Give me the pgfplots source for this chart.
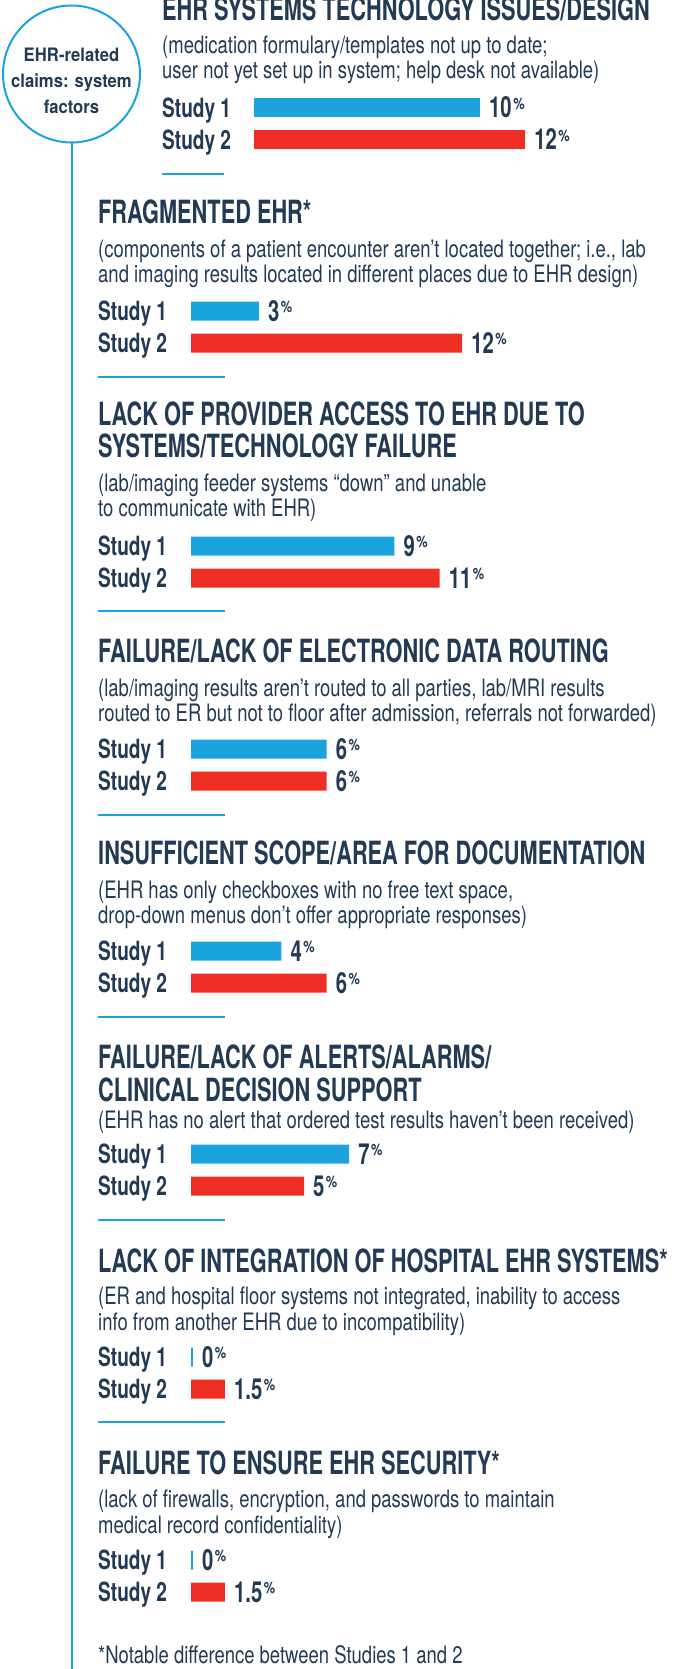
\documentclass[border=0pt]{standalone}
\usepackage{pgfplots}
\pgfplotsset{compat=1.18}
\usepackage{fontspec}
\setmainfont{TeX Gyre Heros}
\newfontfamily\titlefam{TeX Gyre Heros}[FakeStretch=0.68]
\newfontfamily\subfam{TeX Gyre Heros}[FakeStretch=0.77]
\newfontfamily\labfam{TeX Gyre Heros}[FakeStretch=0.72]
\newfontfamily\valfam{TeX Gyre Heros}[FakeStretch=0.70]
\newfontfamily\circfam{TeX Gyre Heros}[FakeStretch=0.90]
\newfontfamily\pctfam{TeX Gyre Heros}[FakeStretch=0.80]
\definecolor{navy}{HTML}{233A55}
\definecolor{cblue}{HTML}{1AA3DD}
\definecolor{cred}{HTML}{EE2E24}
\newcommand\tfont{\titlefam\bfseries\fontsize{32}{32}\selectfont}
\newcommand\sfont{\subfam\fontsize{24}{25}\selectfont}
\newcommand\lfont{\labfam\bfseries\fontsize{26.5}{26.5}\selectfont}
\newcommand\vfont{\valfam\bfseries\fontsize{29}{29}\selectfont}
\newcommand\cfont{\circfam\bfseries\fontsize{18.5}{26}\selectfont}
\newcommand\pfont{\pctfam\fontsize{16}{16}\selectfont}
\newcommand\txt[4]{\node[anchor=base west,inner sep=0pt,text=navy,font=#1] at (#2pt,-#3pt) {#4};}
\newcommand\ctxt[3]{\node[anchor=base,inner sep=0pt,text=navy,font=#1] at (71.5pt,-#2pt) {#3};}
\newcommand\sep[3]{\draw[cblue,line width=1.8pt] (#1pt,-#3pt) -- (#2pt,-#3pt);}
% value label at the end of a bar (axis coordinates)
\newcommand\vlab[3][9pt]{\node[anchor=west,inner sep=0pt,xshift=#1,text height=20pt,text depth=0pt,text=navy,font=\vfont]
  at (axis cs:#2,#3) {#2\kern1.5pt\raisebox{8.5pt}{\pfont\%}};}
\pgfplotsset{
  barlab/.style={xbar, bar shift=0pt, bar width=19pt, draw=none},
  panel/.style={
    anchor=north west, x=22.6pt, y=1pt, y dir=reverse,
    ymin=0, ymax=1669, xmin=0,
    hide axis, clip=false,
  },
}
\begin{document}
\begin{tikzpicture}
\useasboundingbox (0pt,0pt) rectangle (673pt,-1669pt);
\clip (0pt,0pt) rectangle (673pt,-1669pt);
% circle and vertical line
\draw[cblue,line width=2pt] (71.5pt,-74pt) circle (68.5pt);
\draw[cblue,line width=2pt] (71.5pt,-142.5pt) -- (71.5pt,-1672pt);
\ctxt{\cfont}{61.7}{EHR-related}
\ctxt{\cfont}{87.3}{claims: system}
\ctxt{\cfont}{114}{factors}

% section 1 axis
\begin{axis}[panel, at={(254pt,0pt)}, xmax=18]
\addplot[barlab, fill=cblue] coordinates {(10,108)};
\addplot[barlab, fill=cred] coordinates {(12,140)};
\vlab{10}{108}
\vlab{12}{140}
\end{axis}

% sections 2-8 axis
\begin{axis}[panel, at={(191pt,0pt)}, xmax=20]
\addplot[barlab, fill=cblue] coordinates {(3,311) (9,546) (6,749) (4,951) (7,1154)};
\addplot[barlab, draw=cblue, line width=2pt, xshift=1pt] coordinates {(0,1357) (0,1560)};
\addplot[barlab, fill=cred] coordinates {(12,343) (11,578) (6,781) (6,983) (5,1186) (1.5,1389) (1.5,1592)};
\vlab{3}{311}   \vlab{12}{343}
\vlab{9}{546}   \vlab{11}{578}
\vlab{6}{749}   \vlab{6}{781}
\vlab{4}{951}   \vlab{6}{983}
\vlab{7}{1154}  \vlab{5}{1186}
\vlab[11pt]{0}{1357}  \vlab{1.5}{1389}
\vlab[11pt]{0}{1560}  \vlab{1.5}{1592}
\end{axis}

% Section 1
\txt{\tfont}{162}{21}{EHR SYSTEMS TECHNOLOGY ISSUES/DESIGN}
\txt{\sfont}{162}{54}{(medication formulary/templates not up to date;}
\txt{\sfont}{162}{79}{user not yet set up in system; help desk not available)}
\txt{\lfont}{162}{117.5}{Study 1}
\txt{\lfont}{162}{149.5}{Study 2}
\sep{162}{224}{174}

% Section 2
\txt{\tfont}{98}{224}{FRAGMENTED EHR*}
\txt{\sfont}{98}{258}{(components of a patient encounter aren’t located together; i.e., lab}
\txt{\sfont}{98}{283}{and imaging results located in different places due to EHR design)}
\txt{\lfont}{98}{320.5}{Study 1}
\txt{\lfont}{98}{352.5}{Study 2}
\sep{98}{225}{377}

% Section 3
\txt{\tfont}{98}{425}{LACK OF PROVIDER ACCESS TO EHR DUE TO}
\txt{\tfont}{98}{457}{SYSTEMS/TECHNOLOGY FAILURE}
\txt{\sfont}{98}{491}{(lab/imaging feeder systems “down” and unable}
\txt{\sfont}{98}{516}{to communicate with EHR)}
\txt{\lfont}{98}{555.5}{Study 1}
\txt{\lfont}{98}{587.5}{Study 2}
\sep{98}{225}{611}

% Section 4
\txt{\tfont}{98}{662}{FAILURE/LACK OF ELECTRONIC DATA ROUTING}
\txt{\sfont}{98}{696}{(lab/imaging results aren’t routed to all parties, lab/MRI results}
\txt{\sfont}{98}{721}{routed to ER but not to floor after admission, referrals not forwarded)}
\txt{\lfont}{98}{758.5}{Study 1}
\txt{\lfont}{98}{790.5}{Study 2}
\sep{98}{225}{815}

% Section 5
\txt{\tfont}{98}{864}{INSUFFICIENT SCOPE/AREA FOR DOCUMENTATION}
\txt{\sfont}{98}{898}{(EHR has only checkboxes with no free text space,}
\txt{\sfont}{98}{923}{drop-down menus don’t offer appropriate responses)}
\txt{\lfont}{98}{960.5}{Study 1}
\txt{\lfont}{98}{992.5}{Study 2}
\sep{98}{225}{1017}

% Section 6
\txt{\tfont}{98}{1068}{FAILURE/LACK OF ALERTS/ALARMS/}
\txt{\tfont}{98}{1101}{CLINICAL DECISION SUPPORT}
\txt{\sfont}{98}{1128}{(EHR has no alert that ordered test results haven’t been received)}
\txt{\lfont}{98}{1163.5}{Study 1}
\txt{\lfont}{98}{1195.5}{Study 2}
\sep{98}{225}{1220}

% Section 7
\txt{\tfont}{98}{1272}{LACK OF INTEGRATION OF HOSPITAL EHR SYSTEMS*}
\txt{\sfont}{98}{1304}{(ER and hospital floor systems not integrated, inability to access}
\txt{\sfont}{98}{1330}{info from another EHR due to incompatibility)}
\txt{\lfont}{98}{1366.5}{Study 1}
\txt{\lfont}{98}{1398.5}{Study 2}
\sep{98}{225}{1422}

% Section 8
\txt{\tfont}{98}{1474}{FAILURE TO ENSURE EHR SECURITY*}
\txt{\sfont}{98}{1507}{(lack of firewalls, encryption, and passwords to maintain}
\txt{\sfont}{98}{1533}{medical record confidentiality)}
\txt{\lfont}{98}{1569.5}{Study 1}
\txt{\lfont}{98}{1601.5}{Study 2}

\txt{\sfont}{98}{1663}{*Notable difference between Studies 1 and 2}
\end{tikzpicture}
\end{document}
